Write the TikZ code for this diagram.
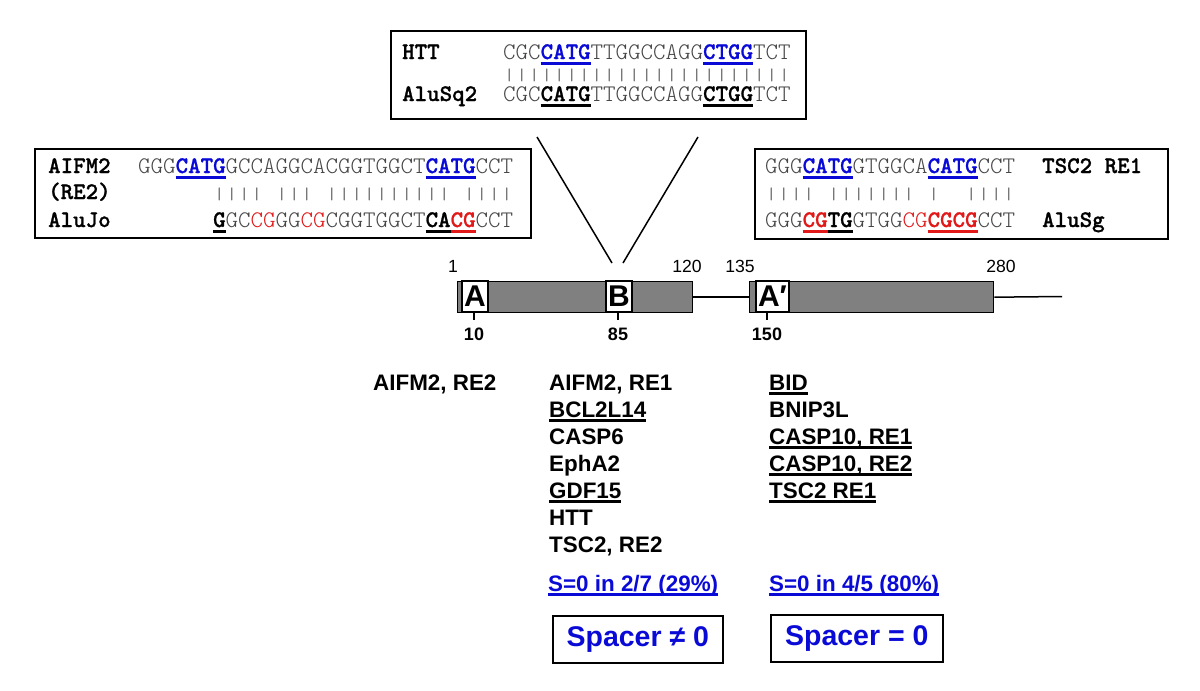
\documentclass[tikz,border=0pt]{standalone}
\usepackage{fontspec}
\usepackage{graphicx}
\setmainfont{Liberation Sans}
\newfontfamily\labfont{lmmonolt10-bold.otf}[FakeBold=1]
\definecolor{seqblue}{RGB}{10,10,215}
\definecolor{seqred}{RGB}{225,25,25}
\definecolor{seqgray}{RGB}{70,70,70}
\definecolor{bargray}{RGB}{100,100,100}
\definecolor{exongray}{RGB}{128,128,128}
\newlength\uloff
\setlength\uloff{-5.5pt}
\newcommand\sqf{\ttfamily\fontsize{23.8}{26}\fontseries{l}\selectfont}
\newcommand\sqb{\labfont\fontsize{23.8}{26}\selectfont}
\newcommand\gs[1]{{\color{seqgray}#1}}
\newcommand\rs[1]{{\color{seqred}#1}}
\newcommand\us[3]{\setbox0\hbox{\color{#2}\sqb #3}\rlap{\color{#1}\rule[\uloff]{\wd0}{2.2pt}}\box0}
\newcommand\ulg[2]{\setbox0\hbox{#2}\rlap{\color{#1}\rule[-4.5pt]{\wd0}{2.2pt}}\box0}
\newcommand\barsq[1]{\scalebox{1}[0.7]{#1}}
\tikzset{
  seq/.style={inner sep=0pt, anchor=base west, font=\sqf},
  lab/.style={inner sep=0pt, anchor=base west, font=\sqb},
  bars/.style={inner sep=0pt, anchor=base west, font=\sqf, text=bargray},
  albox/.style={draw=black, line width=1.6pt, anchor=north west, inner sep=0pt},
  exon/.style={draw=black, fill=exongray, line width=1.4pt, anchor=north west, inner sep=0pt, minimum height=31pt},
  motif/.style={draw=black, fill=white, line width=1.2pt, inner sep=0pt, minimum height=31pt, font=\fontsize{30}{32}\selectfont\bfseries},
  num/.style={font=\fontsize{17.6}{20}\selectfont, inner sep=0pt, anchor=base},
  bnum/.style={font=\fontsize{18}{20}\selectfont\bfseries, inner sep=0pt, anchor=base},
  gene/.style={font=\fontsize{22.4}{26}\selectfont\bfseries, inner sep=0pt, anchor=base west},
  stat/.style={gene, text=seqblue},
  spacerbox/.style={draw=black, line width=1.6pt, anchor=north west, inner sep=0pt, minimum height=47pt, font=\fontsize{28.5}{32}\selectfont\bfseries, text=seqblue},
  conn/.style={line width=1.5pt},
  tick/.style={line width=1.3pt}
}
\begin{document}
\begin{tikzpicture}[x=1pt,y=-1pt]
\useasboundingbox (0,0) rectangle (1200,691);

% ---------- HTT alignment ----------
\node[albox, minimum width=415pt, minimum height=88pt] (hbox) at (390,30) {};
\node[lab] (hlab1) at (402,59) {HTT};
\node[lab] (hlab2) at (402,101) {AluSq2};
\node[seq] (hseq1) at (503,59) {\gs{CGC}\us{seqblue}{seqblue}{CATG}\gs{TTGGCCAGG}\us{seqblue}{seqblue}{CTGG}\gs{TCT}};
\node[bars] (hbars) at (503,80) {\barsq{|||||||||||||||||||||||}};
\node[seq] (hseq2) at (503,101) {\gs{CGC}\us{black}{black}{CATG}\gs{TTGGCCAGG}\us{black}{black}{CTGG}\gs{TCT}};

% ---------- AIFM2 alignment ----------
\node[albox, minimum width=496pt, minimum height=89pt] (abox) at (34,148) {};
\node[lab] (alab1) at (48,173) {AIFM2};
\node[lab] (alab2) at (48,199) {(RE2)};
\node[lab] (alab3) at (48,227) {AluJo};
\node[seq] (aseq1) at (138,173) {\gs{GGG}\us{seqblue}{seqblue}{CATG}\gs{GCCAGGCACGGTGGCT}\us{seqblue}{seqblue}{CATG}\gs{CCT}};
\node[bars] (abars) at (213,199) {\barsq{||||~|||~||||||||||~||||}};
\node[seq] (aseq2) at (213,227) {\us{black}{black}{G}\gs{GC}\rs{CG}\gs{GG}\rs{CG}\gs{CGGTGGCT}\us{black}{black}{CA}\us{seqred}{seqred}{CG}\gs{CCT}};

% ---------- TSC2 alignment ----------
\node[albox, minimum width=413pt, minimum height=90pt] (tbox) at (754,148) {};
\node[seq] (tseq1) at (765,173) {\gs{GGG}\us{seqblue}{seqblue}{CATG}\gs{GTGGCA}\us{seqblue}{seqblue}{CATG}\gs{CCT}};
\node[bars] (tbars) at (765,199) {\barsq{||||~|||||||~|~~||||}};
\node[seq] (tseq2) at (765,227) {\gs{GGG}\us{seqred}{seqred}{CG}\us{black}{black}{TG}\gs{GTGG}\rs{CG}\us{seqred}{seqred}{CGCG}\gs{CCT}};
\node[lab] (tlab1) at (1042,173) {TSC2 RE1};
\node[lab] (tlab2) at (1042,227) {AluSg};

% ---------- zoom lines ----------
\coordinate (z1) at (537,137);
\coordinate (z2) at (612,263);
\coordinate (z3) at (698,137);
\coordinate (z4) at (623,263);
\draw[conn] (z1) -- (z2);
\draw[conn] (z3) -- (z4);

% ---------- gene structure ----------
\node[exon, minimum width=235pt] (ex1) at (457,281) {};
\node[exon, minimum width=244pt] (ex2) at (749,281) {};
\coordinate (tail) at (1062,296.5);
\draw[conn] (ex1.east) -- (ex2.west);
\draw[conn] (ex2.east) -- (tail);
\node[motif, minimum width=26pt] (mA) at (475,296.5) {A};
\node[motif, minimum width=26pt] (mB) at (619,296.5) {B};
\node[motif, minimum width=33pt] (mAp) at (772.5,296.5) {A′};
\draw[tick] ([xshift=-1pt]mA.south) -- ++(0,7);
\draw[tick] ([xshift=-1pt]mB.south) -- ++(0,7);
\draw[tick] ([xshift=-5.5pt]mAp.south) -- ++(0,7);
\node[num] (n1) at (453,272) {1};
\node[num] (n120) at (687,272) {120};
\node[num] (n135) at (740,272) {135};
\node[num] (n280) at (1001,272) {280};
\node[bnum] (n10) at (474,340) {10};
\node[bnum] (n85) at (618,340) {85};
\node[bnum] (n150) at (767,340) {150};

% ---------- gene lists ----------
\node[gene] (g1) at (373,390) {AIFM2, RE2};
\node[gene] (g2a) at (549,390) {AIFM2, RE1};
\node[gene] (g2b) at (549,417) {\ulg{black}{BCL2L14}};
\node[gene] (g2c) at (549,444) {CASP6};
\node[gene] (g2d) at (549,471) {EphA2};
\node[gene] (g2e) at (549,498) {\ulg{black}{GDF15}};
\node[gene] (g2f) at (549,525) {HTT};
\node[gene] (g2g) at (549,552) {TSC2, RE2};
\node[gene] (g3a) at (769,390) {\ulg{black}{BID}};
\node[gene] (g3b) at (769,417) {BNIP3L};
\node[gene] (g3c) at (769,444) {\ulg{black}{CASP10, RE1}};
\node[gene] (g3d) at (769,471) {\ulg{black}{CASP10, RE2}};
\node[gene] (g3e) at (769,498) {\ulg{black}{TSC2 RE1}};

\node[stat] (s1) at (548,591) {\ulg{seqblue}{S=0 in 2/7 (29\%)}};
\node[stat] (s2) at (769,591) {\ulg{seqblue}{S=0 in 4/5 (80\%)}};

\node[spacerbox, minimum width=170pt] (sp1) at (552,615) {Spacer ≠ 0};
\node[spacerbox, minimum width=172pt] (sp2) at (770,614) {Spacer = 0};
\end{tikzpicture}
\end{document}
